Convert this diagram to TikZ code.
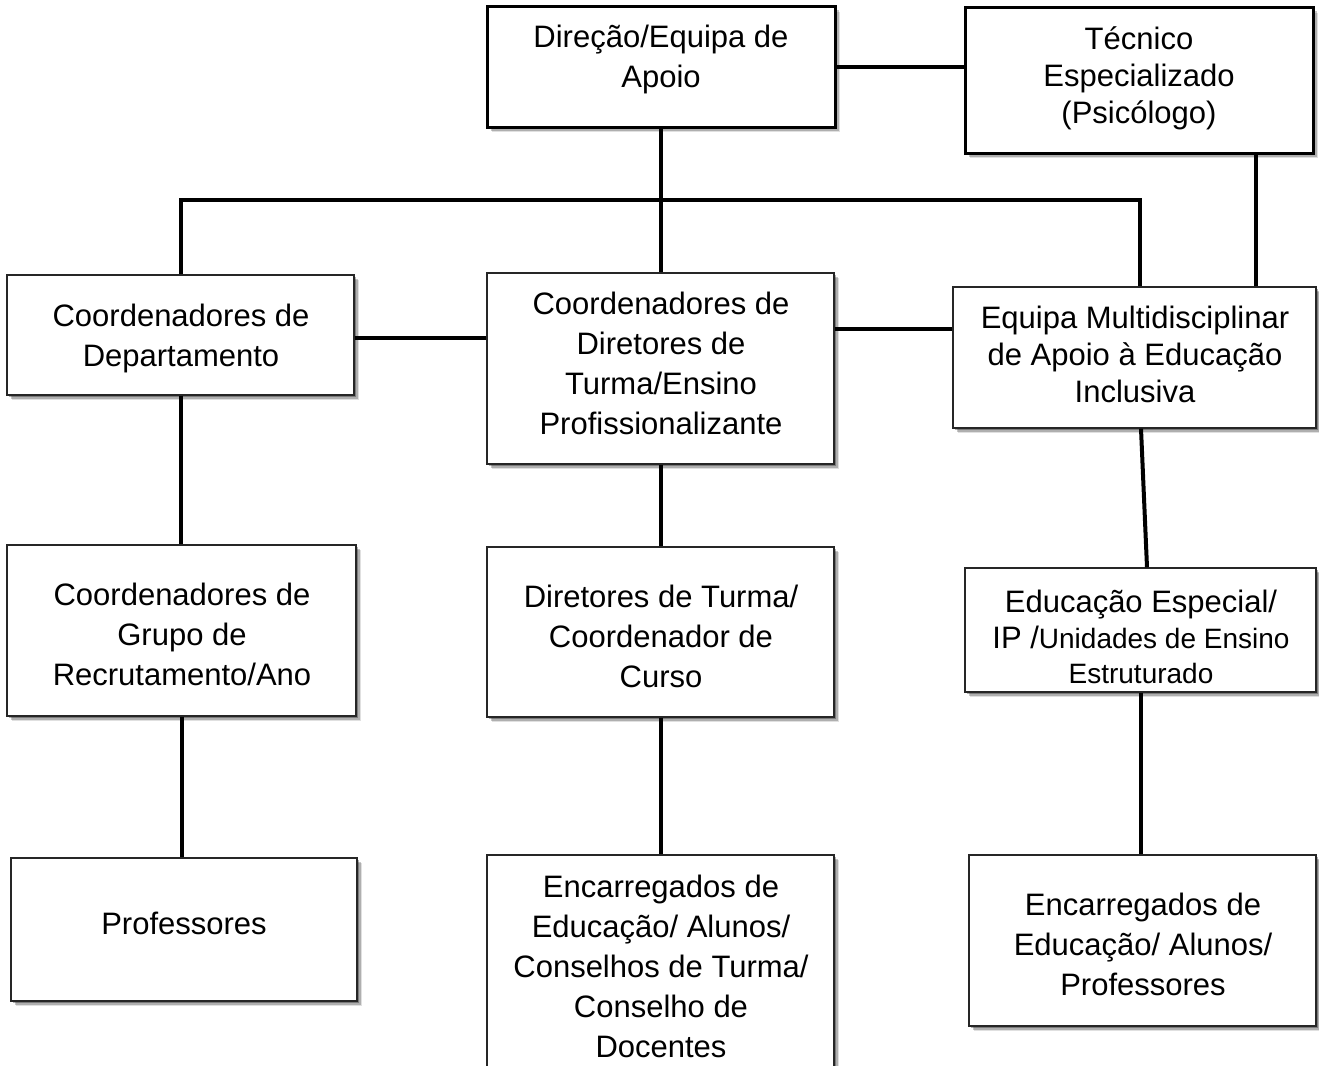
\documentclass[tikz,border=0pt]{standalone}
\usepackage{fontspec}
\setmainfont{Liberation Sans}
\usetikzlibrary{shadows}
\begin{document}
\begin{tikzpicture}[x=1pt,y=-1pt,
  boxbase/.style={draw=black!85, fill=white, inner sep=0pt, line width=1.4pt,
    drop shadow={shadow xshift=5pt, shadow yshift=-5pt, fill=black, opacity=0.12},
    drop shadow={shadow xshift=3.5pt, shadow yshift=-3.5pt, fill=black, opacity=0.22},
    drop shadow={shadow xshift=2pt, shadow yshift=-2pt, fill=black, opacity=0.3}},
  thickbox/.style={boxbase, draw=black, line width=3pt},
  label/.style={align=center, inner sep=0pt, font=\fontsize{31}{40}\selectfont},
  conn/.style={line width=4pt, black}]
\useasboundingbox (0,0) rectangle (1319,1065);
% boxes
\node[thickbox, minimum width=348pt, minimum height=120pt] (top) at (661,67) {};
\node[thickbox, minimum width=348pt, minimum height=145pt] (tec) at (1139,80.5) {};
\node[boxbase, minimum width=347pt, minimum height=120pt] (dept) at (180.5,335) {};
\node[boxbase, minimum width=347pt, minimum height=191pt] (cdir) at (660.5,368.5) {};
\node[boxbase, minimum width=363pt, minimum height=141pt] (equipa) at (1134.5,357.5) {};
\node[boxbase, minimum width=349pt, minimum height=171pt] (grupo) at (181.5,630.5) {};
\node[boxbase, minimum width=347pt, minimum height=170pt] (dturma) at (660.5,632) {};
\node[boxbase, minimum width=351pt, minimum height=124pt] (edesp) at (1140.5,630) {};
\node[boxbase, minimum width=346pt, minimum height=143pt] (prof) at (184,929.5) {};
\node[boxbase, minimum width=347pt, minimum height=220pt] (encm) at (660.5,965) {};
\node[boxbase, minimum width=347pt, minimum height=171pt] (encr) at (1142.5,940.5) {};
% texts
\node[label] (ttop) at (661,59) {Direção/Equipa de\\Apoio};
\node[label, font=\fontsize{31}{37}\selectfont] (ttec) at (1139,78) {Técnico\\Especializado\\(Psicólogo)};
\node[label] (tdept) at (181,338) {Coordenadores de\\Departamento};
\node[label] (tcdir) at (661,363) {Coordenadores de\\Diretores de\\Turma/Ensino\\Profissionalizante};
\node[label, font=\fontsize{31}{37}\selectfont] (tequipa) at (1135,354) {Equipa Multidisciplinar\\de Apoio à Educação\\Inclusiva};
\node[label] (tgrupo) at (182,634) {Coordenadores de\\Grupo de\\Recrutamento/Ano};
\node[label] (tdturma) at (661,636) {Diretores de Turma/\\Coordenador de\\Curso};
\node[label, font=\fontsize{31}{35.5}\selectfont] (tedesp) at (1141,637) {Educação Especial/\\IP /{\fontsize{28}{35.5}\selectfont Unidades de Ensino}\\{\fontsize{28}{35.5}\selectfont Estruturado}};
\node[label] (tprof) at (184,923) {Professores};
\node[label] (tencm) at (661,966) {Encarregados de\\Educação/ Alunos/\\Conselhos de Turma/\\Conselho de\\Docentes};
\node[label] (tencr) at (1143,944) {Encarregados de\\Educação/ Alunos/\\Professores};
% connectors
\coordinate (hl) at (181,200);
\coordinate (hr) at (1140,200);
\draw[conn] (top.south) -- (top.south |- cdir.north);
\draw[conn] (dept.north |- dept.north) -- (dept.north |- hl) -- (hr) -- (hr |- equipa.north);
\draw[conn] (top.east) -- (top.east -| tec.west);
\draw[conn] ([xshift=117pt]tec.south) -- ([xshift=117pt]tec.south |- equipa.north);
\draw[conn] ([yshift=-3pt]dept.east) -- ([yshift=-3pt]dept.east -| cdir.west);
\draw[conn] ([yshift=40pt]cdir.east) -- ([yshift=40pt]cdir.east -| equipa.west);
\draw[conn] (dept.south) -- (dept.south |- grupo.north);
\draw[conn] (grupo.south) -- (grupo.south |- prof.north);
\draw[conn] (cdir.south) -- (cdir.south |- dturma.north);
\draw[conn] (dturma.south) -- (dturma.south |- encm.north);
\draw[conn] ([xshift=6.5pt]equipa.south) -- ([xshift=6.5pt]edesp.north);
\draw[conn] (edesp.south) -- (edesp.south |- encr.north);
\end{tikzpicture}
\end{document}
